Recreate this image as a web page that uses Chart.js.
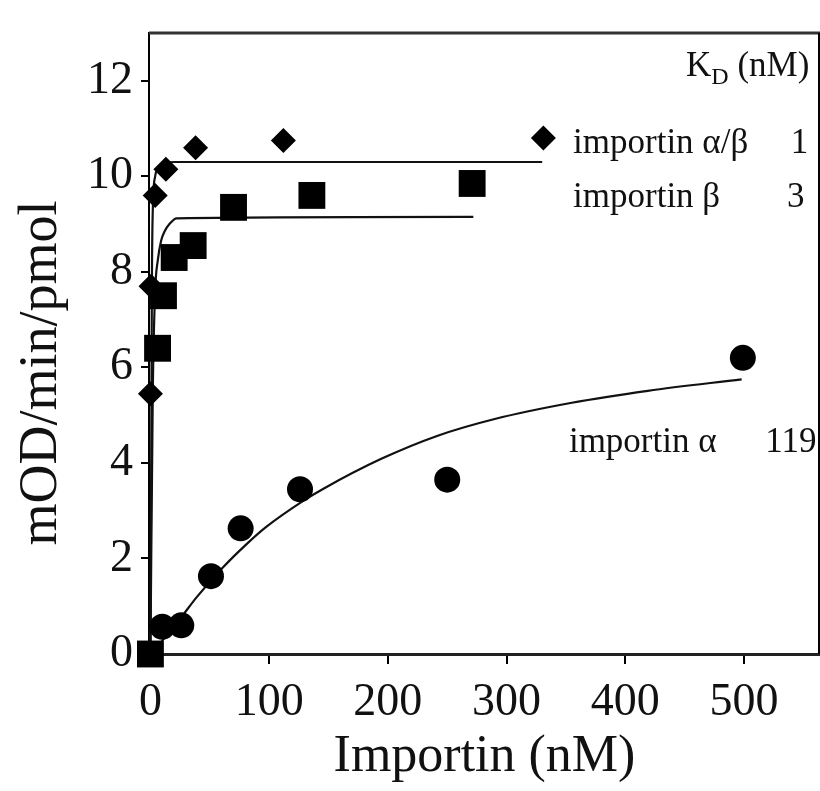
<!DOCTYPE html>
<html>
<head>
<meta charset="utf-8">
<script src="https://cdn.jsdelivr.net/npm/chart.js@4.4.0/dist/chart.umd.min.js"></script>
<style>
  body { margin: 0; background: #fff; }
  canvas { display: block; }
</style>
</head>
<body>
<canvas id="myChart" width="820" height="791"></canvas>
<script>
// measured points (x = importin nM, y = mOD/min/pmol)
var alphaBetaX = [0, 0.5, 4, 13, 38, 112, 331];
var alphaBetaY = [5.45, 7.7, 9.6, 10.15, 10.6, 10.75, 10.8];
var betaX = [0, 6, 11, 20, 36, 70, 136, 271];
var betaY = [0, 6.4, 7.5, 8.3, 8.55, 9.35, 9.6, 9.85];
var alphaX = [10, 26, 51, 76, 126, 250, 499];
var alphaY = [0.57, 0.6, 1.63, 2.63, 3.45, 3.65, 6.2];

// fitted curves
var fitAlphaBetaX = [0, 0.8, 1.3, 2, 4, 8, 20, 330];
var fitAlphaBetaY = [0, 5, 8, 9.3, 10.0, 10.22, 10.3, 10.3];
var fitBetaX = [0, 2, 4, 6.2, 9, 12, 16, 22, 272];
var fitBetaY = [0, 5.5, 7.6, 8.24, 8.65, 8.85, 9.0, 9.12, 9.15];
var fitAlphaX = [0, 10, 26, 39, 61, 81, 97, 129, 145, 194, 242, 290, 355, 419, 498];
var fitAlphaY = [0, 0.28, 0.77, 1.19, 1.81, 2.3, 2.65, 3.21, 3.45, 4.08, 4.57, 4.92, 5.26, 5.51, 5.75];

var xTicks = [0, 100, 200, 300, 400, 500];
var yTicks = [0, 2, 4, 6, 8, 10, 12];

function pts(xs, ys) {
    return xs.map(function (x, i) { return { x: x, y: ys[i] }; });
}

var serif = "'Liberation Serif', 'Times New Roman', serif";
Chart.defaults.color = '#000';
Chart.defaults.font.family = serif;

var frame = {
    id: 'frame',
    afterDatasetsDraw: function (chart) {
        var ctx = chart.ctx, a = chart.chartArea;
        var xs = chart.scales.x, ys = chart.scales.y;
        ctx.save();
        // top and right border
        ctx.strokeStyle = '#333';
        ctx.lineWidth = 3;
        ctx.beginPath();
        ctx.moveTo(a.left, a.top);
        ctx.lineTo(a.right, a.top);
        ctx.stroke();
        ctx.strokeStyle = '#000';
        ctx.lineWidth = 2;
        ctx.beginPath();
        ctx.moveTo(a.right - 1, a.top);
        ctx.lineTo(a.right - 1, a.bottom);
        ctx.stroke();

        ctx.fillStyle = '#111';
        ctx.textBaseline = 'alphabetic';
        var big = "35px " + serif, small = "24px " + serif;
        // K_D (nM)
        var rx = xs.getPixelForValue(555), by = ys.getPixelForValue(12.11);
        ctx.font = big;
        var w1 = ctx.measureText('K').width, w3 = ctx.measureText(' (nM)').width;
        ctx.font = small;
        var w2 = ctx.measureText('D').width;
        var sx = rx - w1 - w2 - w3;
        ctx.font = big; ctx.textAlign = 'left';
        ctx.fillText('K', sx, by);
        ctx.font = small;
        ctx.fillText('D', sx + w1, by + 8);
        ctx.font = big;
        ctx.fillText(' (nM)', sx + w1 + w2, by);

        var labels = [
            ['importin \u03b1/\u03b2', '1', 356, 554, 10.48],
            ['importin \u03b2', '3', 356, 551, 9.35],
            ['importin \u03b1', '119', 352.5, 561, 4.23]
        ];
        labels.forEach(function (l) {
            var y = ys.getPixelForValue(l[4]);
            ctx.textAlign = 'left';
            ctx.fillText(l[0], xs.getPixelForValue(l[2]), y);
            ctx.textAlign = 'right';
            ctx.fillText(l[1], xs.getPixelForValue(l[3]), y);
        });

        // y axis title
        ctx.translate(42, 373);
        ctx.rotate(-Math.PI / 2);
        ctx.textAlign = 'center';
        ctx.textBaseline = 'middle';
        ctx.font = "54px " + serif;
        ctx.fillText('mOD/min/pmol', 0, 0);
        ctx.restore();
    }
};

var lineStyle = {
    showLine: true,
    pointRadius: 0,
    borderColor: '#111',
    borderWidth: 2.2,
    cubicInterpolationMode: 'monotone',
    clip: false,
    order: 2
};

var myChart = document.getElementById("myChart");
var new_chart = new Chart(myChart, {
    type: 'scatter',
    data: {
        datasets: [
            Object.assign({ label: 'fit importin α/β', data: pts(fitAlphaBetaX, fitAlphaBetaY) }, lineStyle),
            Object.assign({ label: 'fit importin β', data: pts(fitBetaX, fitBetaY) }, lineStyle),
            Object.assign({ label: 'fit importin α', data: pts(fitAlphaX, fitAlphaY) }, lineStyle),
            {
                label: 'importin α/β',
                data: pts(alphaBetaX, alphaBetaY),
                pointStyle: 'rectRot',
                pointRadius: 12.5,
                backgroundColor: '#000',
                borderColor: '#000',
                borderWidth: 0,
                clip: false,
                order: 1
            },
            {
                label: 'importin β',
                data: pts(betaX, betaY),
                pointStyle: 'rect',
                pointRadius: 19,
                backgroundColor: '#000',
                borderColor: '#000',
                borderWidth: 0,
                clip: false,
                order: 1
            },
            {
                label: 'importin α',
                data: pts(alphaX, alphaY),
                pointStyle: 'circle',
                pointRadius: 13,
                backgroundColor: '#000',
                borderColor: '#000',
                borderWidth: 0,
                clip: false,
                order: 1
            }
        ]
    },
    options: {
        responsive: false,
        animation: false,
        events: [],
        layout: { autoPadding: false, padding: { top: 33, right: 0, left: 0, bottom: 0 } },
        plugins: {
            legend: { display: false },
            tooltip: { enabled: false }
        },
        scales: {
            x: {
                type: 'linear',
                min: -1.2,
                max: 564,
                afterBuildTicks: function (scale) {
                    scale.ticks = xTicks.map(function (v) { return { value: v }; });
                },
                afterFit: function (scale) {
                    scale.height = 137;
                    scale.paddingLeft = 0;
                    scale.paddingRight = 0;
                },
                ticks: {
                    font: { size: 46, family: serif },
                    color: '#111',
                    padding: 11,
                    maxRotation: 0
                },
                grid: {
                    drawOnChartArea: false,
                    drawTicks: true,
                    tickLength: 10,
                    color: '#000',
                    lineWidth: 2
                },
                border: { display: true, color: '#222', width: 3 },
                title: {
                    display: true,
                    text: 'Importin (nM)',
                    font: { size: 52, family: serif },
                    color: '#111',
                    padding: { top: 0, bottom: 2 }
                }
            },
            y: {
                type: 'linear',
                min: 0,
                max: 13,
                afterBuildTicks: function (scale) {
                    scale.ticks = yTicks.map(function (v) { return { value: v }; });
                },
                afterFit: function (scale) {
                    scale.width = 149;
                    scale.paddingTop = 0;
                    scale.paddingBottom = 0;
                },
                ticks: {
                    font: { size: 46, family: serif },
                    color: '#111',
                    padding: 8
                },
                grid: {
                    drawOnChartArea: false,
                    drawTicks: true,
                    tickLength: 8,
                    color: '#000',
                    lineWidth: 2
                },
                border: { display: true, color: '#000', width: 2 }
            }
        }
    },
    plugins: [frame]
});
</script>
</body>
</html>
